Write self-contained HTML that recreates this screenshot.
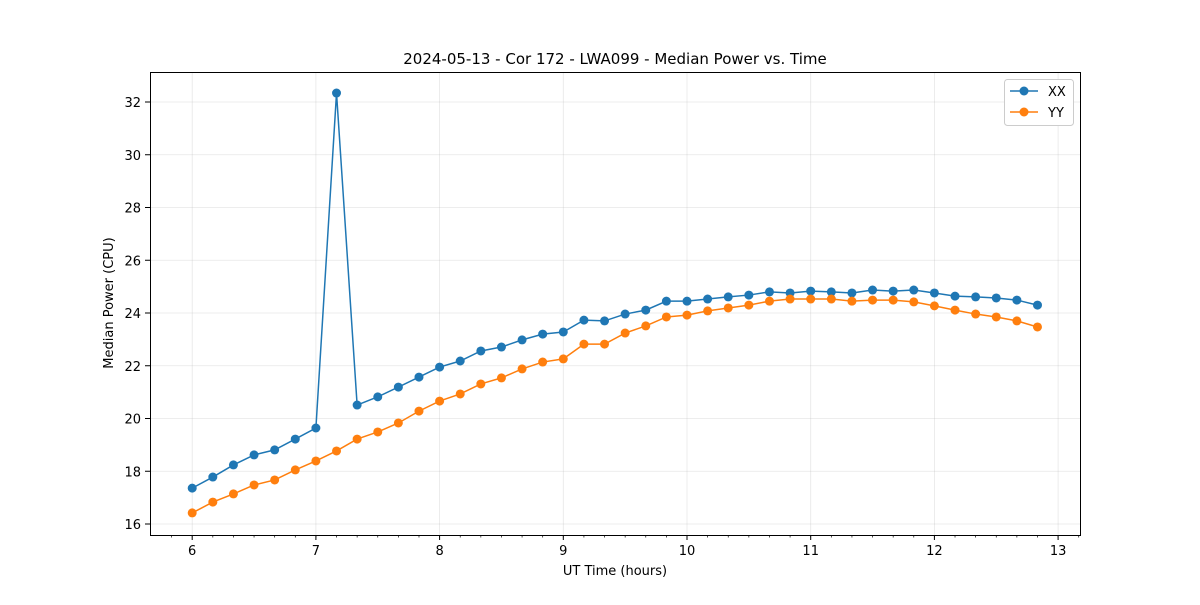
<!DOCTYPE html>
<html><head><meta charset="utf-8"><style>
body{margin:0;background:#fff;font-family:"Liberation Sans","DejaVu Sans",sans-serif}
</style></head><body>
<svg id="chart" width="1200" height="600" xmlns="http://www.w3.org/2000/svg" font-family="DejaVu Sans, Liberation Sans, sans-serif">
<rect width="1200" height="600" fill="#fff"/>
<text x="615" y="64" text-anchor="middle" font-size="15">2024-05-13 - Cor 172 - LWA099 - Median Power vs. Time</text>
<text x="615" y="575" text-anchor="middle" font-size="13">UT Time (hours)</text>
<text transform="translate(113,303) rotate(-90)" text-anchor="middle" font-size="13">Median Power (CPU)</text>
<g id="grid"></g><g id="axes"></g><g id="series"></g>
<rect x="150.5" y="72.5" width="930" height="463" fill="none" stroke="#000" stroke-width="1"/>
<g>
<rect x="1004.5" y="79.5" width="69" height="46" rx="3" fill="#fff" stroke="#ccc"/>
<g><line x1="1010" y1="91" x2="1038" y2="91" stroke="#1f77b4" stroke-width="1.5"/><circle cx="1024" cy="91" r="4.5" fill="#1f77b4"/><text x="1048" y="96" font-size="13">XX</text></g>
<g><line x1="1010" y1="112" x2="1038" y2="112" stroke="#ff7f0e" stroke-width="1.5"/><circle cx="1024" cy="112" r="4.5" fill="#ff7f0e"/><text x="1048" y="117" font-size="13">YY</text></g>
</g>
</svg>
<script>
const hours=[6,6.1667,6.3333,6.5,6.6667,6.8333,7,7.1667,7.3333,7.5,7.6667,7.8333,8,8.1667,8.3333,8.5,8.6667,8.8333,9,9.1667,9.3333,9.5,9.6667,9.8333,10,10.1667,10.3333,10.5,10.6667,10.8333,11,11.1667,11.3333,11.5,11.6667,11.8333,12,12.1667,12.3333,12.5,12.6667,12.8333];
const xxValues=[17.36,17.78,18.24,18.62,18.81,19.22,19.64,32.34,20.51,20.82,21.19,21.57,21.95,22.18,22.56,22.71,22.98,23.20,23.28,23.73,23.70,23.96,24.11,24.45,24.45,24.53,24.61,24.68,24.80,24.76,24.83,24.80,24.76,24.87,24.83,24.87,24.76,24.64,24.61,24.57,24.49,24.30];
const yyValues=[16.42,16.83,17.14,17.48,17.67,18.05,18.39,18.77,19.22,19.49,19.83,20.28,20.66,20.93,21.31,21.54,21.88,22.14,22.26,22.82,22.82,23.24,23.51,23.85,23.92,24.08,24.19,24.30,24.45,24.53,24.53,24.53,24.45,24.49,24.49,24.42,24.27,24.11,23.96,23.85,23.70,23.47];
const xTicks=[6,7,8,9,10,11,12,13];
const yTicks=[16,18,20,22,24,26,28,30,32];
const NS="http://www.w3.org/2000/svg";
const X=v=>192.2+(v-6)*123.7;
const Y=v=>524-(v-16)*26.375;
function mk(tag,attrs,parent){const e=document.createElementNS(NS,tag);for(const k in attrs)e.setAttribute(k,attrs[k]);parent.appendChild(e);return e;}
const grid=document.getElementById('grid'),axes=document.getElementById('axes'),ser=document.getElementById('series');
xTicks.forEach(t=>{const x=X(t);
 const g=mk('line',{x1:x,x2:x,y1:72,y2:535,stroke:'#b0b0b0','stroke-opacity':0.3,'stroke-width':0.8},grid);
 
 
 mk('line',{x1:x,x2:x,y1:535,y2:540,stroke:'#000'},axes);
 const l=mk('text',{x:x,y:555,'text-anchor':'middle','font-size':13},axes);l.textContent=t;
 
 
});
for(let m=5.6667;m<13.2;m+=1/6){const x=X(m);if(x<151||x>1080)continue;mk('line',{x1:x,x2:x,y1:535,y2:537.5,stroke:'#000','stroke-width':0.7},axes);}
yTicks.forEach(t=>{const y=Y(t);
 const g=mk('line',{x1:150,x2:1080,y1:y,y2:y,stroke:'#b0b0b0','stroke-opacity':0.3,'stroke-width':0.8},grid);
 
 
 mk('line',{x1:145,x2:150,y1:y,y2:y,stroke:'#000'},axes);
 const l=mk('text',{x:141,y:y+5,'text-anchor':'end','font-size':13},axes);l.textContent=t;
 
 
});
function draw(vals,color,name){
 const g=mk('g',{},ser);
 
 
 mk('polyline',{points:hours.map((h,i)=>X(h)+','+Y(vals[i])).join(' '),fill:'none',stroke:color,'stroke-width':1.5},g);
 hours.forEach((h,i)=>{const c=mk('circle',{cx:X(h),cy:Y(vals[i]),r:4.5,fill:color},g);
  
  });
}
draw(xxValues,'#1f77b4','series-xx');
draw(yyValues,'#ff7f0e','series-yy');
</script>
</body></html>
